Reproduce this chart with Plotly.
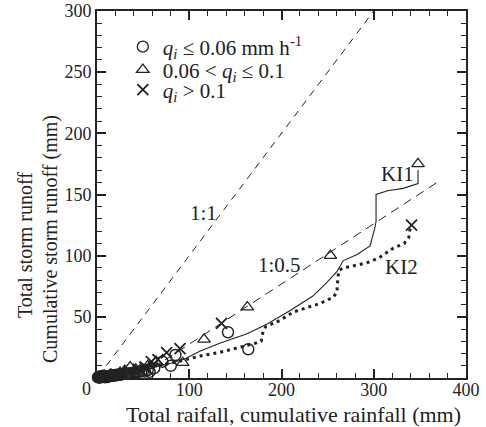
import plotly.graph_objects as go

# Cumulative curves (rainfall mm, runoff mm)
ki1_x = [0, 20, 40, 60, 80, 95, 112, 133, 162, 184, 209, 234, 249, 260, 267, 282, 296, 301, 302.5, 302.5, 315, 332, 348, 348]
ki1_y = [0, 2, 5, 8.5, 12, 15.5, 22, 28.5, 36, 44, 55, 67, 78, 87, 96, 101, 108, 122, 128, 150, 153, 155, 159, 170]

ki2_x = [0, 20, 40, 60, 80, 99, 112, 133, 153, 170, 178, 180, 183, 198, 213, 242, 256, 260, 261, 262, 268, 282, 292, 305, 321, 333, 338, 340]
ki2_y = [0, 2, 5, 9, 12, 15.5, 18, 21, 24.5, 28, 30, 38, 42, 47, 54, 61, 66, 70, 80, 88, 90, 92, 94, 98, 106, 110, 115, 125]

# Storm events grouped by initial discharge q_i
low_x = [1, 2, 2.5, 3, 4, 4.5, 5, 6, 6.5, 7, 8, 8.5, 9, 10, 11, 11.5, 12, 13, 14, 15, 16, 17, 18, 19, 20,
         21, 22, 23, 24, 25, 26, 28, 30, 32, 34, 36, 38, 40, 42, 45, 48, 50, 52, 55, 57, 62, 71, 80, 85, 142, 164]
low_y = [0.5, 1.0, 0.3, 0.6, 0.8, 1.5, 0.7, 0.9, 1.8, 1.0, 1.2, 0.5, 1.1, 1.3, 1.5, 0.8, 1.4, 1.6, 1.8, 1.7, 2.0, 2.1, 1.9, 2.3, 2.4,
         2.2, 2.6, 2.5, 2.8, 3.0, 2.7, 3.2, 3.5, 3.3, 3.8, 4.0, 3.6, 4.5, 4.2, 5.0, 5.5, 6.0, 5.2, 6.5, 5.0, 8.0, 13.3, 10.0, 18.8, 37.4, 23.5]

mid_x = [8, 15, 25, 30, 36, 42, 48, 55, 64, 93, 116, 163, 253, 348]
mid_y = [2, 3, 4.5, 6, 9, 7, 8, 10, 13.3, 12.5, 31.6, 58, 100, 175]

high_x = [20, 35, 45, 52, 59, 66, 75.5, 90, 135, 341]
high_y = [3, 5, 7, 9, 13.3, 15, 20.7, 24, 44.7, 125]

# Reference lines
line11_x = [10, 300]
line11_y = [10, 300]
line05_x = [60, 370]
line05_y = [8, 160.5]

ink = "#222222"
serif = "Liberation Serif"

W, H = 486, 427
ml, mr, mt, mb = 97, 20, 11, 49
pw, ph = W - ml - mr, H - mt - mb

fig = go.Figure()

fig.add_trace(go.Scatter(x=line11_x, y=line11_y, mode="lines",
                         line=dict(color=ink, width=1, dash="7px,6px"),
                         showlegend=False, hoverinfo="skip"))
fig.add_trace(go.Scatter(x=line05_x, y=line05_y, mode="lines",
                         line=dict(color=ink, width=1, dash="9px,6px"),
                         showlegend=False, hoverinfo="skip"))
fig.add_trace(go.Scatter(x=ki1_x, y=ki1_y, mode="lines",
                         line=dict(color=ink, width=1.1),
                         showlegend=False))
fig.add_trace(go.Scatter(x=ki2_x, y=ki2_y, mode="lines",
                         line=dict(color=ink, width=3, dash="3px,4px"),
                         showlegend=False))

fig.add_trace(go.Scatter(x=low_x, y=low_y, mode="markers", cliponaxis=False, legend="legend",
                         name="<i>q<sub>i</sub></i> ≤ 0.06 mm h<sup>-1</sup>",
                         marker=dict(symbol="circle-open", size=11, color=ink,
                                     line=dict(width=1.4, color=ink))))
fig.add_trace(go.Scatter(x=mid_x, y=mid_y, mode="markers", cliponaxis=False, legend="legend2",
                         name="0.06 < <i>q<sub>i</sub></i> ≤ 0.1",
                         marker=dict(symbol="triangle-up-open", size=11, color=ink,
                                     line=dict(width=1.3, color=ink))))
fig.add_trace(go.Scatter(x=high_x, y=high_y, mode="markers", cliponaxis=False, legend="legend3",
                         name="<i>q<sub>i</sub></i> > 0.1",
                         marker=dict(symbol="x-thin-open", size=11, color=ink,
                                     line=dict(width=1.8, color=ink))))

axis_common = dict(
    showgrid=False, zeroline=False, showline=True, linecolor=ink, linewidth=2,
    mirror="allticks", ticks="inside", ticklen=9, tickwidth=1.5, tickcolor=ink,
    tickfont=dict(family=serif, size=18, color=ink), automargin=False,
)

fig.update_xaxes(range=[0, 400], tickvals=[100, 200, 300, 400], ticklabelstandoff=-6,
                 minor=dict(dtick=20, ticks="inside", ticklen=5, tickwidth=1.3, tickcolor=ink),
                 **axis_common)
fig.update_yaxes(range=[0, 300], tickvals=[50, 100, 150, 200, 250, 300],
                 minor=dict(dtick=10, ticks="inside", ticklen=5, tickwidth=1.3, tickcolor=ink),
                 **axis_common)

note_font = dict(family=serif, size=21, color=ink)
annotations = [
    dict(x=115, y=135, xref="x", yref="y", text="1:1", showarrow=False, font=note_font),
    dict(x=198, y=92, xref="x", yref="y", text="1:0.5", showarrow=False, font=note_font),
    dict(x=326, y=167, xref="x", yref="y", text="KI1", showarrow=False, font=note_font),
    dict(x=330, y=91, xref="x", yref="y", text="KI2", showarrow=False, font=note_font),
    dict(x=86, y=389, text="0", showarrow=False, font=dict(family=serif, size=18, color=ink)),
    dict(x=293, y=414, text="Total raifall, cumulative rainfall (mm)", showarrow=False,
         font=dict(family=serif, size=22, color=ink)),
    dict(x=25, y=245, text="Total storm runoff", showarrow=False,
         font=dict(family=serif, size=20, color=ink), textangle=-90),
    dict(x=50, y=239, text="Cumulative storm runoff (mm)", showarrow=False,
         font=dict(family=serif, size=20, color=ink), textangle=-90),
]
# labels placed in pixel terms -> paper coordinates
for a in annotations:
    a["xanchor"], a["yanchor"] = "center", "middle"
    if a.get("xref") != "x":
        a["xref"], a["yref"] = "paper", "paper"
        a["x"] = (a["x"] - ml) / pw
        a["y"] = (H - mb - a["y"]) / ph


def legend_row(py):
    return dict(x=0.07, y=(H - mb - py) / ph, xanchor="left", yanchor="middle",
                bgcolor="rgba(0,0,0,0)", font=dict(family=serif, size=21, color=ink),
                itemwidth=30)


fig.update_layout(
    width=W, height=H,
    margin=dict(l=ml, r=mr, t=mt, b=mb, autoexpand=False),
    plot_bgcolor="white", paper_bgcolor="white",
    annotations=annotations,
    legend=legend_row(47),
    legend2=legend_row(70),
    legend3=legend_row(90),
)

fig.write_html("out.html")
